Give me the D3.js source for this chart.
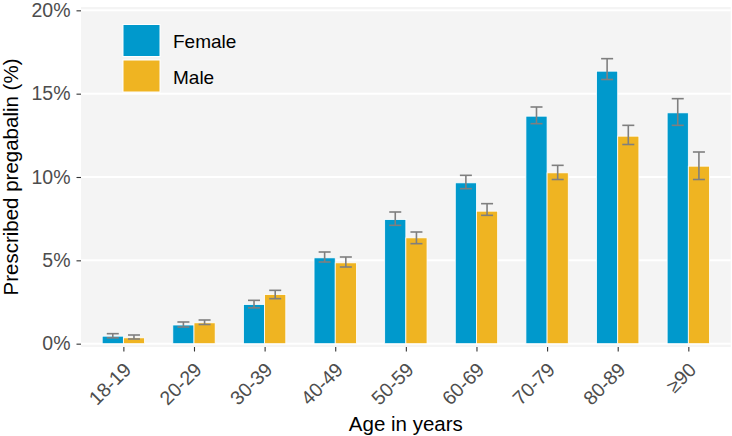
<!DOCTYPE html>
<html>
<head>
<meta charset="utf-8">
<script src="https://cdn.jsdelivr.net/npm/d3@7"></script>
<style>
  html, body { margin: 0; padding: 0; background: #fff; }
  svg { display: block; font-family: "Liberation Sans", Arial, sans-serif; }
</style>
</head>
<body>
<svg id="chart" width="732" height="436"></svg>
<script>
const ages = ["18-19","20-29","30-39","40-49","50-59","60-69","70-79","80-89","≥90"];
const sexes = ["Female","Male"];
const female   = [0.45, 1.12, 2.35, 5.15, 7.45, 9.65, 13.65, 16.35, 13.85];
const femaleLo = [0.35, 1.00, 2.15, 4.90, 7.10, 9.30, 13.20, 15.85, 13.10];
const femaleHi = [0.60, 1.30, 2.60, 5.50, 7.90, 10.10, 14.20, 17.10, 14.70];
const male     = [0.35, 1.25, 2.95, 4.85, 6.35, 7.95, 10.25, 12.45, 10.65];
const maleLo   = [0.28, 1.15, 2.70, 4.60, 6.00, 7.70, 9.85, 11.95, 9.85];
const maleHi   = [0.52, 1.42, 3.20, 5.20, 6.70, 8.40, 10.70, 13.10, 11.50];
const yTicks = [0, 5, 10, 15, 20];
const yTickLabels = ["0%", "5%", "10%", "15%", "20%"];
const colors = { Female: "#0099cc", Male: "#efb422" };

const svg = d3.select("#chart");
const P = { left: 81, right: 730.7, top: 7, bottom: 347 };

const x = d3.scalePoint().domain(ages).range([P.left, P.right]).padding(0.6);
const step = x.step();
const xs = d3.scaleBand().domain(sexes).range([-0.3 * step, 0.3 * step]).padding(0);
const y = d3.scaleLinear().domain([-0.2, 20.2]).range([P.bottom, P.top]);

// panel
svg.append("rect").attr("x", P.left).attr("y", P.top)
  .attr("width", P.right - P.left).attr("height", P.bottom - P.top)
  .attr("fill", "#f4f4f4");

// gridlines
svg.append("g").selectAll("line").data(yTicks).join("line")
  .attr("x1", P.left).attr("x2", P.right)
  .attr("y1", d => y(d)).attr("y2", d => y(d))
  .attr("stroke", "#ffffff").attr("stroke-width", 2);

const rows = [];
ages.forEach((a, i) => {
  rows.push({ age: a, sex: "Female", v: female[i], lo: femaleLo[i], hi: femaleHi[i] });
  rows.push({ age: a, sex: "Male", v: male[i], lo: maleLo[i], hi: maleHi[i] });
});

// bars
svg.append("g").selectAll("rect").data(rows).join("rect")
  .attr("x", d => x(d.age) + xs(d.sex))
  .attr("width", xs.bandwidth())
  .attr("y", d => y(d.v))
  .attr("height", d => y(0) - y(d.v))
  .attr("fill", d => colors[d.sex])
  .attr("stroke", "#ffffff").attr("stroke-width", 0.8);

// error bars
const eb = svg.append("g").attr("stroke", "#7f7f7f").attr("stroke-width", 1.6).attr("fill", "none");
const capW = 0.085 * step;
rows.forEach(d => {
  const cx = x(d.age) + xs(d.sex) + xs.bandwidth() / 2;
  eb.append("line").attr("x1", cx).attr("x2", cx).attr("y1", y(d.lo)).attr("y2", y(d.hi));
  eb.append("line").attr("x1", cx - capW).attr("x2", cx + capW).attr("y1", y(d.lo)).attr("y2", y(d.lo));
  eb.append("line").attr("x1", cx - capW).attr("x2", cx + capW).attr("y1", y(d.hi)).attr("y2", y(d.hi));
});

const tickFont = "19.5px";

// y axis
const yAxis = d3.axisLeft(y).tickValues(yTicks).tickFormat((d, i) => yTickLabels[i])
  .tickSize(4.5).tickPadding(6);
const gy = svg.append("g").attr("transform", `translate(${P.left},0)`).call(yAxis);
gy.select(".domain").remove();
gy.selectAll(".tick line").attr("stroke", "#333333").attr("stroke-width", 1.1);
gy.selectAll(".tick text").attr("fill", "#4d4d4d").style("font-size", tickFont)
  .style("font-family", "'Liberation Sans', Arial, sans-serif");

// x axis
const xAxis = d3.axisBottom(x).tickSize(4.5).tickPadding(3);
const gx = svg.append("g").attr("transform", `translate(0,${P.bottom})`).call(xAxis);
gx.select(".domain").remove();
gx.selectAll(".tick line").attr("stroke", "#333333").attr("stroke-width", 1.1);
gx.selectAll(".tick text")
  .attr("fill", "#4d4d4d").style("font-size", tickFont)
  .style("font-family", "'Liberation Sans', Arial, sans-serif")
  .attr("text-anchor", "end")
  .attr("dy", null)
  .attr("y", null)
  .attr("transform", "translate(8.5,24) rotate(-45)");

// axis titles
svg.append("text").attr("x", (P.left + P.right) / 2).attr("y", 431)
  .attr("text-anchor", "middle").attr("fill", "#000").style("font-size", "20.5px")
  .text("Age in years");
svg.append("text").attr("transform", `translate(17.5,${(P.top + P.bottom) / 2}) rotate(-90)`)
  .attr("text-anchor", "middle").attr("fill", "#000").style("font-size", "20.5px")
  .text("Prescribed pregabalin (%)");

// legend
const lg = svg.append("g");
const keyY = { Female: 24.5, Male: 60 };
sexes.forEach(s => {
  lg.append("rect").attr("x", 123).attr("y", keyY[s]).attr("width", 37).attr("height", 32)
    .attr("fill", colors[s]).attr("stroke", "#ffffff").attr("stroke-width", 1);
  lg.append("text").attr("x", 173).attr("y", keyY[s] + 23.5).attr("fill", "#000")
    .style("font-size", "19px").text(s);
});
</script>
</body>
</html>
